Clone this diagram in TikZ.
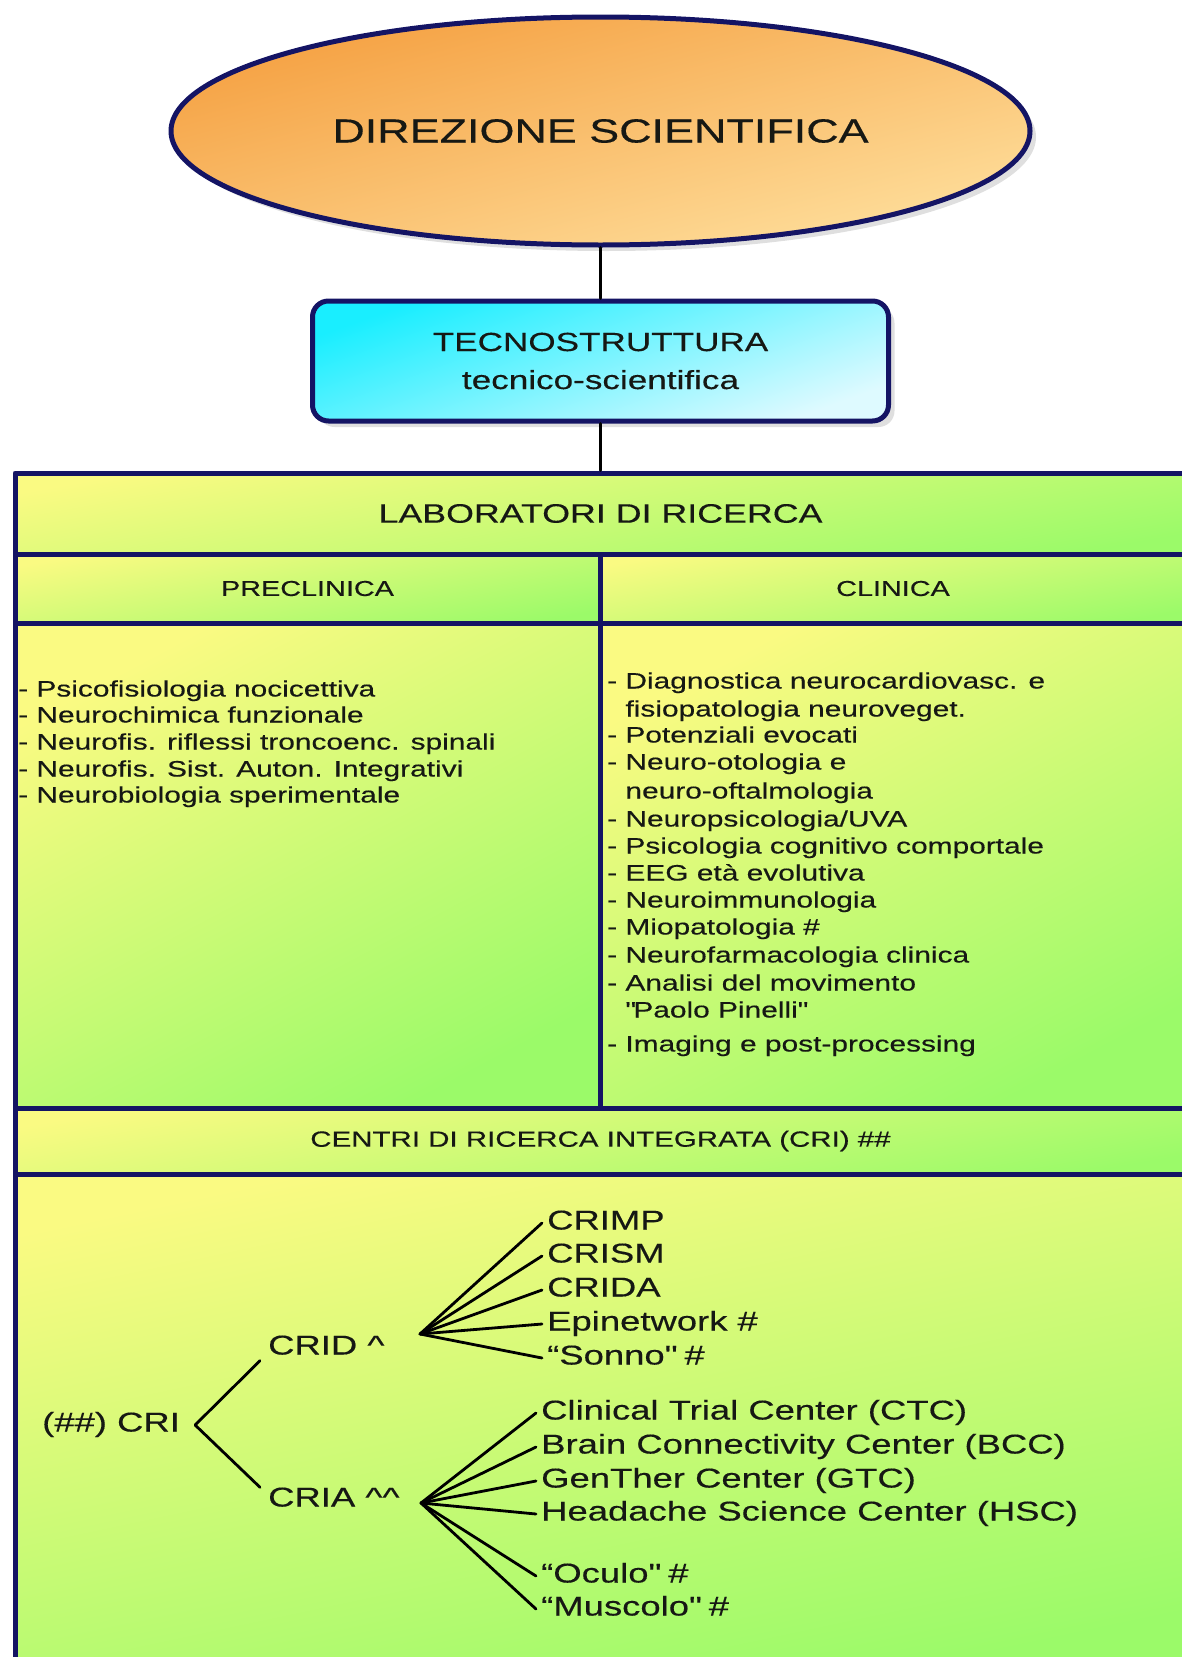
\documentclass[tikz,border=0pt]{standalone}
\usepackage{fontspec}
\setmainfont[FakeStretch=1.34,FakeBold=0.35]{Liberation Sans}
\usetikzlibrary{shapes.geometric,shadows}
\definecolor{navy}{RGB}{20,20,100}
\definecolor{orgA}{RGB}{245,160,65}
\definecolor{orgB}{RGB}{254,222,155}
\definecolor{cynA}{RGB}{25,238,255}
\definecolor{cynB}{RGB}{222,250,255}
\definecolor{ylw}{RGB}{250,250,130}
\definecolor{grn}{RGB}{155,250,105}
\definecolor{ink}{RGB}{22,24,20}
\tikzset{
  cell/.style={draw=navy, line width=5pt, top color=ylw, bottom color=grn, shading angle=#1},
  cell/.default=28,
  hdr/.style={cell=10, inner sep=0pt, text=ink},
  item/.style={anchor=west, inner sep=0pt, text=ink, font=\fontsize{22.3}{27}\selectfont, text height=16pt, text depth=5pt},
  leaf/.style={anchor=west, inner sep=0pt, text=ink, font=\fontsize{27.2}{30}\selectfont, text height=19pt, text depth=6pt},
  link/.style={line width=2.8pt, black},
  shad/.style={drop shadow={shadow xshift=6pt, shadow yshift=-6pt, opacity=.25}}
}
\begin{document}
\begin{tikzpicture}[x=1pt, y=-1pt, line join=round, line cap=round]
\useasboundingbox (0,0) rectangle (1182,1657);
\node[ellipse, shad, draw=navy, line width=5pt, top color=orgA, bottom color=orgB, shading angle=15,
      minimum width=859pt, minimum height=228pt, inner sep=0pt, text=ink,
      font=\fontsize{33.5}{36}\selectfont] (dir) at (600.5,131) {DIREZIONE SCIENTIFICA};
\node[rectangle, shad, rounded corners=16pt, draw=navy, line width=5pt, top color=cynA, bottom color=cynB,
      shading angle=20, minimum width=576pt, minimum height=120pt, inner sep=0pt, align=center, text=ink,
      font=\fontsize{26.2}{38}\selectfont] (tec) at (600.5,361) {TECNOSTRUTTURA\\tecnico-scientifica};
\node[hdr, minimum width=1171pt, minimum height=81pt, font=\fontsize{26.7}{30}\selectfont] (lab) at (600.5,513.5) {LABORATORI DI RICERCA};
\node[hdr, minimum width=585pt, minimum height=69pt, font=\fontsize{21.5}{26}\selectfont] (pre) at (307.5,588.5) {PRECLINICA};
\node[hdr, minimum width=586pt, minimum height=69pt, font=\fontsize{21.5}{26}\selectfont] (cli) at (893,588.5) {CLINICA};
\path[cell] (15,623) rectangle (600,1108);
\path[cell] (600,623) rectangle (1186,1108);
\node[hdr, minimum width=1171pt, minimum height=66pt, font=\fontsize{22}{26}\selectfont] (cen) at (600.5,1141) {CENTRI DI RICERCA INTEGRATA (CRI) \#\#};
\path[cell=12] (15,1174) rectangle (1186,1672);
\draw[link] (dir.south) -- (tec.north);
\draw[link] (tec.south) -- (lab.north);
\foreach \y/\itm [count=\i] in {691/Psicofisiologia nocicettiva, 717/Neurochimica funzionale,
    744/Neurofis. riflessi troncoenc. spinali, 771/Neurofis. Sist. Auton. Integrativi, 797/Neurobiologia sperimentale}
  \node[item] (pl\i) at (18,\y) {- \itm};
\foreach \y/\itm [count=\i] in {683/- Diagnostica neurocardiovasc. e, 711/\phantom{- }fisiopatologia neuroveget.,
    737/- Potenziali evocati, 764/- Neuro-otologia e, 793/\phantom{- }neuro-oftalmologia, 821/{- Neuropsicologia/UVA},
    848/- Psicologia cognitivo comportale, 875/- EEG età evolutiva, 902/- Neuroimmunologia, 929/- Miopatologia \#,
    957/- Neurofarmacologia clinica, 985/- Analisi del movimento,
    1012/\phantom{- }\textquotedbl Paolo Pinelli\textquotedbl, 1046/- Imaging e post-processing}
  \node[item] (cl\i) at (607,\y) {\itm};
\node[leaf] (cri) at (42,1425) {(\#\#) CRI};
\node[leaf] (crid) at (268,1348) {CRID \textasciicircum};
\node[leaf] (cria) at (268,1500) {CRIA \textasciicircum\textasciicircum};
\coordinate (cridfan) at (420,1334);
\coordinate (criafan) at (421,1503);
\draw[link] ([xshift=15pt]cri.east) -- ([xshift=-8pt]crid.south west);
\draw[link] ([xshift=15pt]cri.east) -- ([xshift=-8pt]cria.north west);
\foreach \y/\itm [count=\i] in {1223/CRIMP, 1256/CRISM, 1290/CRIDA, 1324/Epinetwork \#, 1358/“Sonno\textquotedbl{} \#}{
  \node[leaf] (d\i) at (547,\y) {\itm};
  \draw[link] (cridfan) -- ([xshift=-5pt]d\i.west);
}
\foreach \y/\itm [count=\i] in {1413/Clinical Trial Center (CTC), 1447/Brain Connectivity Center (BCC),
    1481/GenTher Center (GTC), 1514/Headache Science Center (HSC),
    1576/“Oculo\textquotedbl{} \#, 1609/“Muscolo\textquotedbl{} \#}{
  \node[leaf] (a\i) at (541,\y) {\itm};
  \draw[link] (criafan) -- ([xshift=-5pt]a\i.west);
}
\end{tikzpicture}
\end{document}
